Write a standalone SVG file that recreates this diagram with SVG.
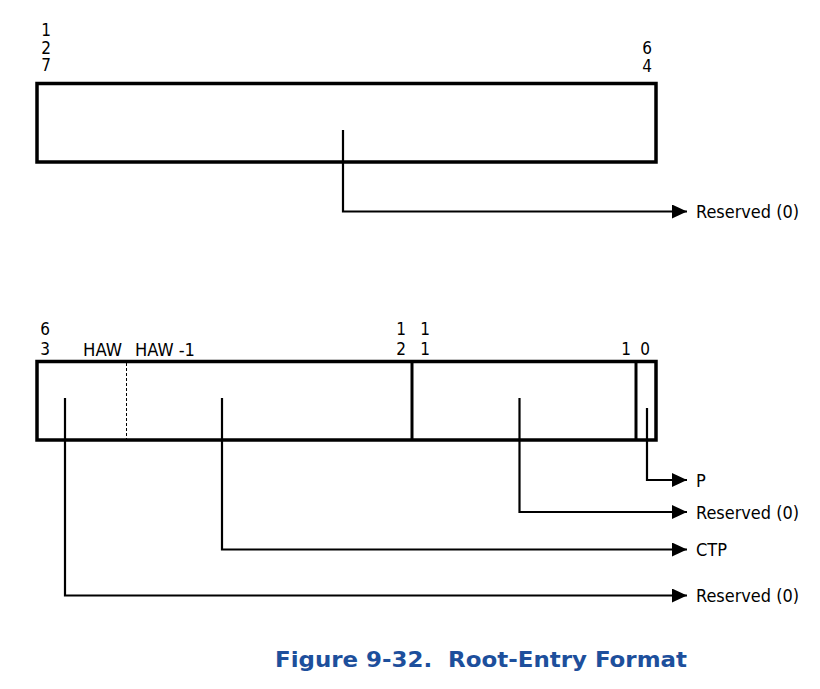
<svg xmlns="http://www.w3.org/2000/svg" width="820" height="689" viewBox="0 0 820 689">
<defs>
<marker id="arr" markerWidth="16" markerHeight="14" refX="15" refY="7" orient="auto" markerUnits="userSpaceOnUse">
<path d="M0,0 L15,7 L0,14 Z" fill="#000"/>
</marker>
<style>
.box{fill:none;stroke:#000;stroke-width:3.5;stroke-linejoin:miter}
.div{stroke:#000;stroke-width:3}
.conn{fill:none;stroke:#000;stroke-width:2.2}
.lbl{font-family:"DejaVu Sans Condensed","Liberation Sans",sans-serif;font-size:17px;fill:#000}
.big{font-size:18px}
.title{font-family:"DejaVu Sans","Liberation Sans",sans-serif;font-weight:bold;font-size:21px;fill:#1d4f9c}
</style>
</defs>
<rect width="820" height="689" fill="#fff"/>

<g id="top-register">
<rect class="box" x="37" y="83.5" width="619" height="78.5"/>
<text class="lbl" x="46" y="36" text-anchor="middle">1</text>
<text class="lbl" x="46" y="53.5" text-anchor="middle">2</text>
<text class="lbl" x="46" y="71" text-anchor="middle">7</text>
<text class="lbl" x="647" y="54" text-anchor="middle">6</text>
<text class="lbl" x="647" y="71.5" text-anchor="middle">4</text>
</g>

<g id="bottom-register">
<rect class="box" x="37" y="361.5" width="619" height="78.5"/>
<line class="div" x1="412" y1="361.5" x2="412" y2="440"/>
<line class="div" x1="636" y1="361.5" x2="636" y2="440"/>
<line x1="126.5" y1="363" x2="126.5" y2="439" stroke="#000" stroke-width="1" stroke-dasharray="3,2"/>
<text class="lbl" x="45" y="335" text-anchor="middle">6</text>
<text class="lbl" x="45" y="355" text-anchor="middle">3</text>
<text class="lbl big" x="83" y="355.5" textLength="39" lengthAdjust="spacingAndGlyphs">HAW</text>
<text class="lbl big" x="135" y="355.5" textLength="60" lengthAdjust="spacingAndGlyphs">HAW -1</text>
<text class="lbl" x="401" y="335" text-anchor="middle">1</text>
<text class="lbl" x="401" y="355" text-anchor="middle">2</text>
<text class="lbl" x="425" y="335" text-anchor="middle">1</text>
<text class="lbl" x="425" y="355" text-anchor="middle">1</text>
<text class="lbl" x="626" y="355" text-anchor="middle">1</text>
<text class="lbl" x="645" y="355" text-anchor="middle">0</text>
</g>

<g id="connectors">
<path class="conn" d="M343,130 V211.5 H687" marker-end="url(#arr)"/>
<path class="conn" d="M647,408 V480 H687" marker-end="url(#arr)"/>
<path class="conn" d="M519.5,398 V512 H687" marker-end="url(#arr)"/>
<path class="conn" d="M222,398 V549.5 H687" marker-end="url(#arr)"/>
<path class="conn" d="M65,398 V595.5 H687" marker-end="url(#arr)"/>
</g>

<g id="labels">
<text class="lbl big" x="696" y="218" textLength="103" lengthAdjust="spacingAndGlyphs">Reserved (0)</text>
<text class="lbl big" x="696" y="487">P</text>
<text class="lbl big" x="696" y="518.5" textLength="103" lengthAdjust="spacingAndGlyphs">Reserved (0)</text>
<text class="lbl big" x="696" y="556" textLength="31" lengthAdjust="spacingAndGlyphs">CTP</text>
<text class="lbl big" x="696" y="602" textLength="103" lengthAdjust="spacingAndGlyphs">Reserved (0)</text>
</g>

<text class="title" x="275" y="667" textLength="412" lengthAdjust="spacingAndGlyphs">Figure 9-32.&#160; Root-Entry Format</text>
</svg>
